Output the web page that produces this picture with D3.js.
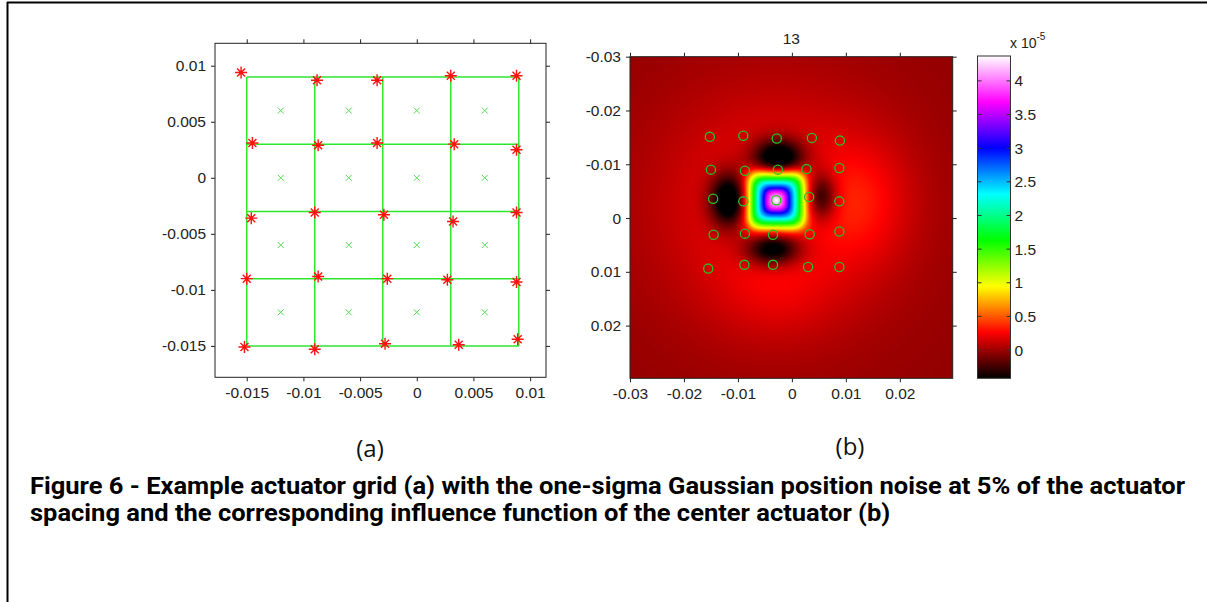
<!DOCTYPE html>
<html><head><meta charset="utf-8">
<script src="https://cdn.jsdelivr.net/npm/d3@7"></script>
<style>
body{margin:0;background:#fff}
svg text{font-family:"Liberation Sans",Arial,sans-serif}
</style>
</head><body>
<svg id="fig" width="1207" height="602"></svg>
<script>
// ---------- DATA ----------
// panel (a): nominal grid lines and cell centres
const gridLinesX = [-0.015, -0.009, -0.003, 0.003, 0.009];
const gridLinesY = [-0.015, -0.009, -0.003, 0.003, 0.009];
const cellCentersX = [-0.012, -0.006, 0, 0.006];
const cellCentersY = [-0.012, -0.006, 0, 0.006];
// noisy actuator positions (row by row), index 13 is the centre actuator
const actuatorX = [
  -0.0152, -0.0090, -0.0028, 0.0037, 0.0089,
  -0.0150, -0.0087, -0.0026, 0.0027, 0.0088,
  -0.0146, -0.0090, -0.0029, 0.0032, 0.0088,
  -0.0145, -0.0087, -0.0035, 0.0033, 0.0088,
  -0.0155, -0.0088, -0.0035, 0.0030, 0.0088];
const actuatorY = [
  -0.0151, -0.0153, -0.0148, -0.0149, -0.0144,
  -0.0090, -0.0088, -0.0090, -0.0091, -0.0093,
  -0.0036, -0.0031, -0.0033, -0.0039, -0.0031,
   0.0031,  0.0029,  0.0031,  0.0030,  0.0025,
   0.0094,  0.0087,  0.0087,  0.0091,  0.0091];
const centerActuator = 13;
const xTicksA = [-0.015, -0.01, -0.005, 0, 0.005, 0.01];
const yTicksA = [-0.015, -0.01, -0.005, 0, 0.005, 0.01];
const xDomainA = [-0.0178, 0.0114];
const yDomainA = [-0.0178, 0.0120];

// panel (b): influence function (units of 1e-5)
const xTicksB = [-0.03, -0.02, -0.01, 0, 0.01, 0.02];
const yTicksB = [-0.03, -0.02, -0.01, 0, 0.01, 0.02];
const domainB = [-0.03, 0.0298];
const colorbarTicks = [0, 0.5, 1, 1.5, 2, 2.5, 3, 3.5, 4];
const colorRange = [-0.42, 4.37];
const colormap = ["#000000", "#ff0000", "#ffff00", "#00ff00", "#00ffff", "#0000ff", "#ff00ff", "#ffffff"];
// radial profile of the centre peak: distance -> value
const peakProfileD = [0, 0.0008, 0.0016, 0.0023, 0.0029, 0.0035, 0.0042, 0.0048, 0.0052, 0.0057, 0.0062, 0.0069, 0.0080];
const peakProfileV = [4.15, 3.85, 3.45, 2.8, 2.4, 2.02, 1.5, 1.05, 0.80, 0.50, 0.25, 0.08, 0];
const fieldBase = -0.03;
// broad positive glows: [x, y, amplitude, sigmaX, sigmaY]
const glows = [
  [-0.003, -0.002, 0.29, 0.016, 0.016],
  [0.013, -0.003, 0.20, 0.006, 0.008],
  [-0.003, 0.014, 0.10, 0.008, 0.006]];
// negative side lobes: [x, y, amplitude, sigmaX, sigmaY]
const lobes = [
  [-0.0025, -0.0113, -0.85, 0.0033, 0.0024],
  [-0.0118, -0.0033, -0.85, 0.0024, 0.0035],
  [-0.0035, 0.0058, -0.75, 0.0035, 0.0021],
  [0.0056, -0.0040, -0.55, 0.0019, 0.0030]];

const labelA = "(a)", labelB = "(b)";
const captionLines = [
  "Figure 6 - Example actuator grid (a) with the one-sigma Gaussian position noise at 5% of the actuator",
  "spacing and the corresponding influence function of the center actuator (b)"];

// ---------- DRAW ----------
const svg = d3.select("#fig");
const fmt = d => String(d);
const tickCol = "#222";
const tickFont = 15.5;

// page frame
svg.append("line").attr("x1", 7).attr("x2", 1207).attr("y1", 2.5).attr("y2", 2.5).attr("stroke", "#000").attr("stroke-width", 2);
svg.append("line").attr("x1", 7.5).attr("x2", 7.5).attr("y1", 2).attr("y2", 602).attr("stroke", "#000").attr("stroke-width", 2);

function frame(g, x, y, xt, yt) {
  const [x0, x1] = x.range(), [y0, y1] = y.range();
  const top = Math.min(y0, y1), bot = Math.max(y0, y1);
  const axB = d3.axisBottom(x).tickValues(xt).tickSize(4).tickSizeOuter(0).tickPadding(6).tickFormat(fmt);
  const axT = d3.axisTop(x).tickValues(xt).tickSize(4).tickSizeOuter(0).tickFormat("");
  const axL = d3.axisLeft(y).tickValues(yt).tickSize(4).tickSizeOuter(0).tickPadding(5).tickFormat(fmt);
  const axR = d3.axisRight(y).tickValues(yt).tickSize(4).tickSizeOuter(0).tickFormat("");
  const parts = [[axB, `translate(0,${bot})`], [axT, `translate(0,${top})`], [axL, `translate(${x0},0)`], [axR, `translate(${x1},0)`]];
  for (const [ax, tr] of parts) {
    const a = g.append("g").attr("transform", tr).call(ax);
    a.select(".domain").remove();
    a.selectAll("line").attr("stroke", tickCol);
    a.selectAll("text").attr("font-size", tickFont).attr("fill", tickCol).style("font-family", '"Liberation Sans",Arial,sans-serif');
  }
  g.append("rect").attr("x", x0).attr("y", top).attr("width", x1 - x0).attr("height", bot - top)
    .attr("fill", "none").attr("stroke", tickCol).attr("stroke-width", 1);
}

// ----- panel (a)
const xA = d3.scaleLinear(xDomainA, [215, 546]);
const yA = d3.scaleLinear(yDomainA, [377.3, 43.3]);
const gA = svg.append("g");
const gMin = d3.min(gridLinesX), gMax = d3.max(gridLinesX);
const gyMin = d3.min(gridLinesY), gyMax = d3.max(gridLinesY);
gA.selectAll(".vl").data(gridLinesX).join("line")
  .attr("x1", d => xA(d)).attr("x2", d => xA(d)).attr("y1", yA(gyMin)).attr("y2", yA(gyMax))
  .attr("stroke", "#2fe62f").attr("stroke-width", 1.5);
gA.selectAll(".hl").data(gridLinesY).join("line")
  .attr("y1", d => yA(d)).attr("y2", d => yA(d)).attr("x1", xA(gMin)).attr("x2", xA(gMax))
  .attr("stroke", "#2fe62f").attr("stroke-width", 1.5);
const centers = cellCentersX.flatMap(cx => cellCentersY.map(cy => [cx, cy]));
gA.selectAll(".cx").data(centers).join("path")
  .attr("transform", d => `translate(${xA(d[0])},${yA(d[1])})`)
  .attr("d", "M-3,-3L3,3M-3,3L3,-3").attr("stroke", "#55dd55").attr("stroke-width", 1).attr("fill", "none");
const acts = actuatorX.map((x, i) => [x, actuatorY[i]]);
gA.selectAll(".st").data(acts).join("path")
  .attr("transform", d => `translate(${xA(d[0])},${yA(d[1])})`)
  .attr("d", "M-6,0H6M0,-6V6M-4,-4L4,4M-4,4L4,-4")
  .attr("stroke", "#ff1010").attr("stroke-width", 1.4).attr("fill", "none");
frame(gA, xA, yA, xTicksA, yTicksA);

// ----- panel (b)
const xB = d3.scaleLinear(domainB, [630, 952.7]);
const yB = d3.scaleLinear(domainB, [56.7, 378.3]);
const colorStops = colormap.map((c, i) => colorRange[0] + (colorRange[1] - colorRange[0]) * i / (colormap.length - 1));
const cmap = d3.scaleLinear(colorStops, colormap).interpolate(d3.interpolateRgb).clamp(true);
const profile = d3.scaleLinear(peakProfileD, peakProfileV).clamp(true);
const peakX = actuatorX[centerActuator - 1], peakY = actuatorY[centerActuator - 1];
function gauss(g, x, y) {
  const u = (x - g[0]) / g[3], v = (y - g[1]) / g[4];
  return g[2] * Math.exp(-0.5 * (u * u + v * v));
}
function field(x, y) {
  let v = fieldBase;
  for (const g of glows) v += gauss(g, x, y);
  for (const g of lobes) v += gauss(g, x, y);
  const dx = x - peakX, dy = y - peakY;
  const r = Math.hypot(dx, dy);
  const p = 2 + 2.5 * Math.min(1, r / 0.0052);
  const d = Math.pow(Math.pow(Math.abs(dx), p) + Math.pow(Math.abs(dy), p), 1 / p);
  return v + profile(d);
}
const W = Math.round(xB.range()[1] - xB.range()[0]), H = Math.round(yB.range()[1] - yB.range()[0]);
const cv = document.createElement("canvas");
cv.width = W; cv.height = H;
const ctx = cv.getContext("2d");
const img = ctx.createImageData(W, H);
for (let j = 0; j < H; j++) {
  const y = yB.invert(yB.range()[0] + (j + 0.5) * (yB.range()[1] - yB.range()[0]) / H);
  for (let i = 0; i < W; i++) {
    const x = xB.invert(xB.range()[0] + (i + 0.5) * (xB.range()[1] - xB.range()[0]) / W);
    const c = d3.rgb(cmap(field(x, y)));
    const k = 4 * (j * W + i);
    img.data[k] = c.r; img.data[k + 1] = c.g; img.data[k + 2] = c.b; img.data[k + 3] = 255;
  }
}
ctx.putImageData(img, 0, 0);
const gB = svg.append("g");
gB.append("image").attr("href", cv.toDataURL()).attr("x", xB.range()[0]).attr("y", yB.range()[0])
  .attr("width", xB.range()[1] - xB.range()[0]).attr("height", yB.range()[1] - yB.range()[0])
  .attr("preserveAspectRatio", "none");
gB.selectAll(".ci").data(acts).join("circle")
  .attr("cx", d => xB(d[0])).attr("cy", d => yB(d[1])).attr("r", 4.6)
  .attr("fill", "none").attr("stroke", "#22c422").attr("stroke-width", 1.3);
frame(gB, xB, yB, xTicksB, yTicksB);
gB.append("text").attr("x", (xB.range()[0] + xB.range()[1]) / 2).attr("y", 44)
  .attr("text-anchor", "middle").attr("font-size", tickFont).attr("fill", tickCol).text(String(centerActuator));

// ----- colorbar
const cb = d3.scaleLinear(colorRange, [378.3, 56]);
const cbX0 = 977.5, cbX1 = 1010.5;
const defs = svg.append("defs");
const lg = defs.append("linearGradient").attr("id", "cbg").attr("x1", 0).attr("x2", 0).attr("y1", 1).attr("y2", 0);
lg.selectAll("stop").data(colormap).join("stop")
  .attr("offset", (d, i) => i / (colormap.length - 1)).attr("stop-color", d => d);
svg.append("rect").attr("x", cbX0).attr("y", cb(colorRange[1])).attr("width", cbX1 - cbX0)
  .attr("height", cb(colorRange[0]) - cb(colorRange[1])).attr("fill", "url(#cbg)")
  .attr("stroke", "#333").attr("stroke-width", 1);
const cbg = svg.append("g");
cbg.selectAll(".tl").data(colorbarTicks).join("path")
  .attr("d", d => `M${cbX0},${cb(d)}h4M${cbX1},${cb(d)}h-4`).attr("stroke", "#333").attr("stroke-width", 1);
cbg.selectAll(".tt").data(colorbarTicks).join("text")
  .attr("x", cbX1 + 4).attr("y", d => cb(d) + 5.5).attr("font-size", tickFont).attr("fill", tickCol).text(fmt);
const exp = svg.append("text").attr("x", 1010).attr("y", 48).attr("font-size", 14).attr("fill", tickCol);
exp.append("tspan").text("x 10");
exp.append("tspan").attr("dy", -8).attr("font-size", 10).text("-5");

// ----- labels and caption
svg.append("text").attr("x", 370).attr("y", 457).attr("text-anchor", "middle")
  .attr("font-size", 24).attr("fill", "#111").style("font-family", '"Open Sans","Liberation Sans",sans-serif').text(labelA);
svg.append("text").attr("x", 850).attr("y", 455).attr("text-anchor", "middle")
  .attr("font-size", 24).attr("fill", "#111").style("font-family", '"Open Sans","Liberation Sans",sans-serif').text(labelB);
const cap = captionLines.map((t, i) => svg.append("text").attr("x", 30).attr("y", i === 0 ? 494 : 521)
  .attr("font-size", 23).attr("font-weight", "bold").attr("fill", "#000")
  .style("font-family", 'Roboto,"Open Sans","Liberation Sans",sans-serif').text(t));
const natural = cap[0].node().getComputedTextLength();
const factor = (1185 - 30) / natural;
cap.forEach(c => {
  const L = c.node().getComputedTextLength();
  c.attr("textLength", L * factor).attr("lengthAdjust", "spacingAndGlyphs");
});
</script>
</body></html>
